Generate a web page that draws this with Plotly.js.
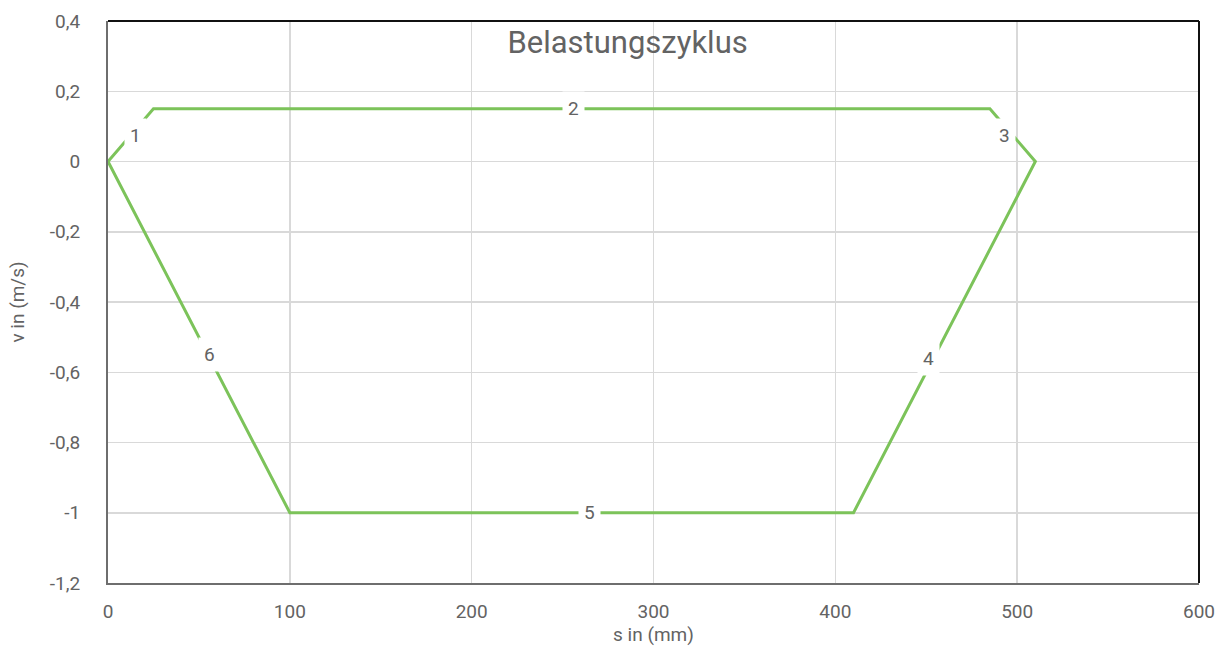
<!DOCTYPE html>
<html><head><meta charset="utf-8">
<script src="https://cdn.plot.ly/plotly-3.0.1.min.js"></script>
<style>body{margin:0;background:#fff}</style>
</head><body><div id="c" style="width:1221px;height:650px"></div>
<script>
const sValues = [0, 25, 485, 510, 410, 100, 0];
const vValues = [0, 0.15, 0.15, 0, -1, -1, 0];
const segLabels = ["1", "2", "3", "4", "5", "6"];
const labelS = [15, 256, 493, 451, 265, 56];
const labelV = [0.075, 0.15, 0.073, -0.56, -1, -0.55];
const xTicks = [0, 100, 200, 300, 400, 500, 600];
const xTickText = ["0", "100", "200", "300", "400", "500", "600"];
const yTicks = [0.4, 0.2, 0, -0.2, -0.4, -0.6, -0.8, -1, -1.2];
const yTickText = ["0,4", "0,2", "0", "-0,2", "-0,4", "-0,6", "-0,8", "-1", "-1,2"];

const gray = '#636363';
const fam = 'Roboto, "Liberation Sans", sans-serif';
const font = {family: fam, size: 19, color: gray};

const trace = {x: sValues, y: vValues, mode: 'lines', line: {color: '#7cc35a', width: 3}, hoverinfo: 'skip'};

const annotations = segLabels.map((t, i) => ({
  x: labelS[i], y: labelV[i], xref: 'x', yref: 'y', text: t, showarrow: false,
  bgcolor: '#ffffff', borderpad: 5, font: {family: fam, size: 19, color: gray}
}));

const layout = {
  width: 1221, height: 650,
  margin: {l: 108, r: 22, t: 21, b: 67},
  paper_bgcolor: '#fff', plot_bgcolor: '#fff',
  showlegend: false,
  font: font,
  title: {text: 'Belastungszyklus', font: {family: fam, size: 31, color: gray}, x: 0.514, xanchor: 'center', y: 0.935, yanchor: 'middle'},
  xaxis: {range: [0, 600], tickvals: xTicks, ticktext: xTickText, showgrid: true, gridcolor: '#d9d9d9', gridwidth: 1.5,
    zeroline: false, showline: true, linecolor: '#6e6e6e', linewidth: 2, ticks: '', ticklabelstandoff: 10,
    tickfont: {family: fam, size: 19, color: gray}, title: {text: 's in (mm)', font: {family: fam, size: 19, color: gray}, standoff: 1}},
  yaxis: {range: [-1.2, 0.4], tickvals: yTicks, ticktext: yTickText, showgrid: true, gridcolor: '#d9d9d9', gridwidth: 1.5,
    zeroline: false, showline: true, linecolor: '#6e6e6e', linewidth: 2, ticks: '', ticklabelstandoff: 22,
    tickfont: {family: fam, size: 19, color: gray}, title: {text: 'v in (m/s)', font: {family: fam, size: 19, color: gray}, standoff: 20}},
  shapes: [
    {type: 'line', xref: 'paper', yref: 'paper', x0: 0, x1: 1, y0: 1, y1: 1, line: {color: '#111', width: 2}},
    {type: 'line', xref: 'paper', yref: 'paper', x0: 1, x1: 1, y0: 0, y1: 1, line: {color: '#111', width: 2}}
  ],
  annotations: annotations
};
Plotly.newPlot('c', [trace], layout, {displayModeBar: false, staticPlot: true});
</script></body></html>
